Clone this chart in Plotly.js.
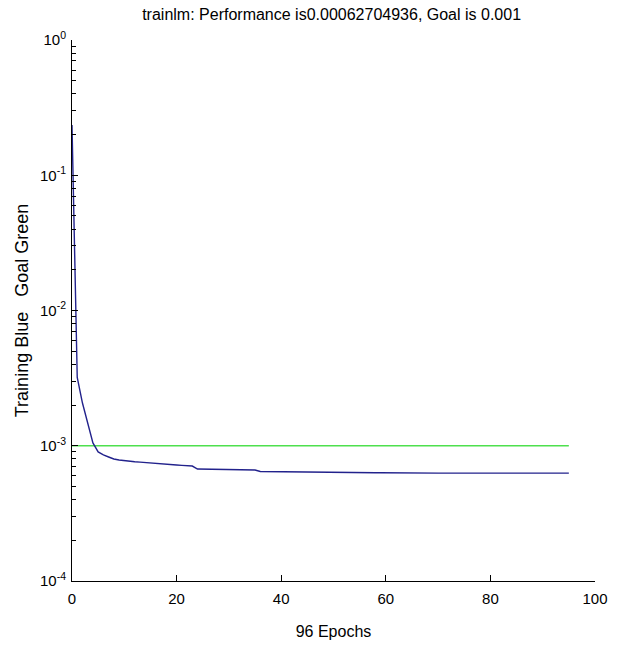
<!DOCTYPE html>
<html>
<head>
<meta charset="utf-8">
<script src="https://cdn.plot.ly/plotly-3.0.1.min.js"></script>
<style>html,body{margin:0;padding:0;background:#fff;}#chart{width:621px;height:646px;}</style>
</head>
<body>
<div id="chart"></div>
<script>
// Training performance per epoch (epochs 0..95)
var epochs = [];
for (var i = 0; i <= 95; i++) epochs.push(i);
var trainingPerf = [
  0.235, 0.0032, 0.00207, 0.00147, 0.00105, 0.00090, 0.000855, 0.000826, 0.000798, 0.000785,
  0.000775, 0.000768, 0.000762, 0.000757, 0.000753, 0.000749, 0.000743, 0.000737, 0.000731, 0.000725,
  0.000721, 0.000716, 0.000712, 0.000708, 0.000673, 0.000672, 0.000671, 0.000670, 0.000669, 0.000668,
  0.000667, 0.000666, 0.000665, 0.000664, 0.000663, 0.000662, 0.000645, 0.000644, 0.000643, 0.000642,
  0.000641, 0.000640, 0.000639, 0.000638, 0.000637, 0.000637, 0.000636, 0.000636, 0.000635, 0.000635,
  0.000634, 0.000634, 0.000633, 0.000633, 0.000632, 0.000632, 0.000632, 0.000631, 0.000631, 0.000631,
  0.000630, 0.000630, 0.000630, 0.000630, 0.000629, 0.000629, 0.000629, 0.000629, 0.000629, 0.000628,
  0.000628, 0.000628, 0.000628, 0.000628, 0.000628, 0.000628, 0.000627, 0.000627, 0.000627, 0.000627,
  0.000627, 0.000627, 0.000627, 0.000627, 0.000627, 0.000627, 0.000627, 0.000627, 0.000627, 0.000627,
  0.000627, 0.000627, 0.000627, 0.000627, 0.000627, 0.00062704936
];
var goalEpochs = [0, 95];
var goalPerf = [0.001, 0.001];
var yTickVals = [1, 0.1, 0.01, 0.001, 0.0001];
var yTickText = ['10<sup>0</sup>', '10<sup>-1</sup>', '10<sup>-2</sup>', '10<sup>-3</sup>', '10<sup>-4</sup>'];
var xTickVals = [0, 20, 40, 60, 80, 100];

var font = 'Liberation Sans, Arial, sans-serif';
var data = [
  {x: goalEpochs, y: goalPerf, type: 'scatter', mode: 'lines',
   line: {color: '#4ee04e', width: 1.6}, hoverinfo: 'skip'},
  {x: epochs, y: trainingPerf, type: 'scatter', mode: 'lines',
   line: {color: '#22228c', width: 1.4}}
];
var layout = {
  width: 621, height: 646,
  margin: {l: 72, r: 26, t: 40, b: 65},
  paper_bgcolor: '#ffffff', plot_bgcolor: '#ffffff',
  showlegend: false,
  font: {family: font, size: 15, color: '#000'},
  title: {text: 'trainlm: Performance is0.00062704936, Goal is 0.001',
          font: {family: font, size: 16, color: '#000'},
          x: 0.534, xanchor: 'center', y: 0.978, yanchor: 'middle', yref: 'container'},
  xaxis: {
    range: [0, 100], tickmode: 'array', tickvals: xTickVals,
    showgrid: false, zeroline: false, showline: true, linecolor: '#000', linewidth: 1,
    ticks: 'inside', ticklen: 6, tickcolor: '#000', tickfont: {size: 15},
    ticklabelstandoff: 4,
    mirror: false,
    title: {text: '96 Epochs', font: {size: 16}, standoff: 19}
  },
  yaxis: {
    type: 'log', range: [-4, 0], tickmode: 'array', tickvals: yTickVals, ticktext: yTickText,
    showgrid: false, zeroline: false, showline: true, linecolor: '#000', linewidth: 1,
    ticks: 'inside', ticklen: 6, tickcolor: '#000', tickfont: {size: 15},
    ticklabelstandoff: 2,
    minor: {dtick: 'D1', ticks: 'inside', ticklen: 4, tickcolor: '#000', showgrid: false},
    title: {text: 'Training Blue&nbsp;&nbsp;&nbsp;Goal Green', font: {size: 18}, standoff: 6}
  }
};
Plotly.newPlot('chart', data, layout, {displayModeBar: false, staticPlot: true});
</script>
</body>
</html>
